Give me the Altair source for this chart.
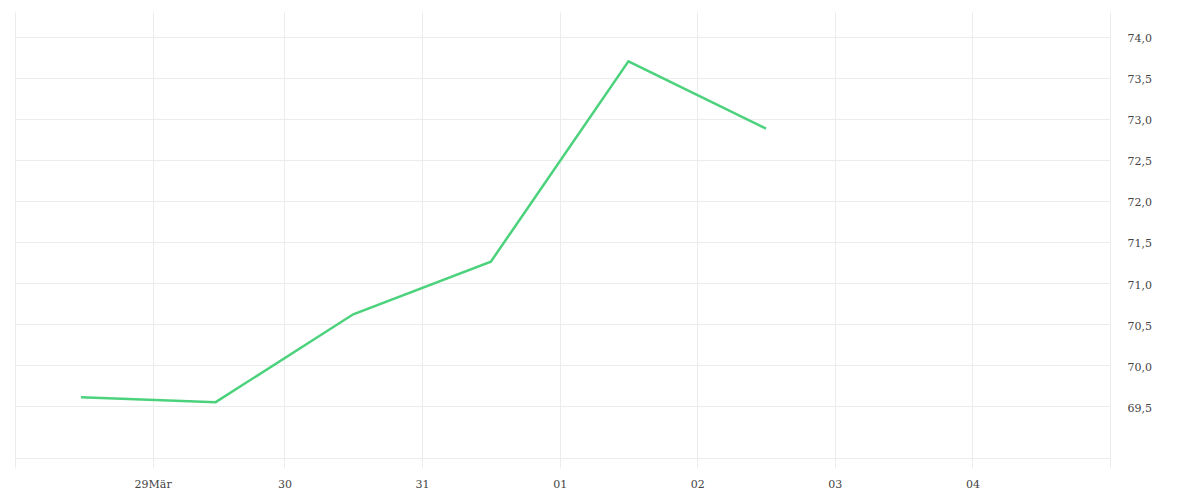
import altair as alt
import pandas as pd

# data (UTC instants)
dates = ["2024-03-28T10:30:00Z", "2024-03-29T10:00:00Z", "2024-03-30T10:00:00Z",
         "2024-03-31T10:00:00Z", "2024-04-01T10:00:00Z", "2024-04-02T10:00:00Z"]
values = [69.61, 69.55, 70.62, 71.26, 73.70, 72.88]

# day boundaries used for the x grid
x_ticks = ["2024-03-27T23:00:00Z", "2024-03-28T23:00:00Z", "2024-03-29T22:00:00Z",
           "2024-03-30T22:00:00Z", "2024-03-31T22:00:00Z", "2024-04-01T22:00:00Z",
           "2024-04-02T22:00:00Z", "2024-04-03T22:00:00Z", "2024-04-04T22:00:00Z"]
x_tick_labels = ["", "29Mär", "30", "31", "01", "02", "03", "04", ""]
y_ticks = [69.5, 70.0, 70.5, 71.0, 71.5, 72.0, 72.5, 73.0, 73.5, 74.0]
y_domain = [68.87, 74.30]

df = pd.DataFrame({"date": dates, "value": values})

x_ms = [int(pd.Timestamp(t).value // 1_000_000) for t in x_ticks]
label_array = "[" + ",".join("'" + s + "'" for s in x_tick_labels) + "]"
ms_array = "[" + ",".join(str(v) for v in x_ms) + "]"
label_expr = f"{label_array}[indexof({ms_array}, time(datum.value))]"

GRID = "#ececec"
FONT = "DejaVu Serif"

chart = alt.Chart(df).mark_line(color="#4cd27c", strokeWidth=2.5, clip=True).encode(
    x=alt.X("date:T",
            scale=alt.Scale(type="utc", domain=[x_ms[0], x_ms[-1]]),
            axis=alt.Axis(values=x_ms, labelExpr=label_expr, title=None,
                          grid=True, gridColor=GRID, domainColor=GRID,
                          tickColor=GRID, tickSize=10, labelPadding=10,
                          labelFont=FONT, labelFontSize=11, labelColor="#444",
                          labelAngle=0, labelOverlap=False)),
    y=alt.Y("value:Q",
            scale=alt.Scale(domain=y_domain, nice=False, zero=False),
            axis=alt.Axis(orient="right", values=y_ticks, title=None,
                          labelExpr="replace(format(datum.value, '.1f'), '.', ',')",
                          grid=True, gridColor=GRID, domain=False, ticks=False,
                          labelPadding=17, labelOffset=2, labelFont=FONT,
                          labelFontSize=11, labelColor="#444")),
).properties(
    width=1095, height=446,
    padding={"left": 6, "top": 4, "right": 5, "bottom": 5},
).configure_view(stroke=None)

chart.save("out.html", embed_options={"renderer": "svg", "actions": False})
